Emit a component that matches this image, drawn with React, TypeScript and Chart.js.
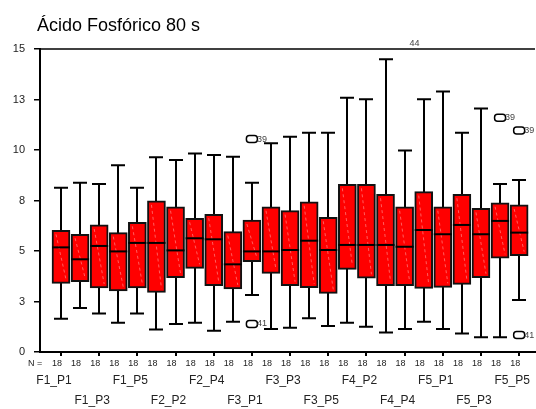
import React, { useEffect, useRef } from "react";
import { Chart, registerables } from "chart.js";

Chart.register(...registerables);

const titleText = "Ácido Fosfórico 80 s";
const categories = [
  "F1_P1", "F1_P2", "F1_P3", "F1_P4", "F1_P5",
  "F2_P1", "F2_P2", "F2_P3", "F2_P4", "F2_P5",
  "F3_P1", "F3_P2", "F3_P3", "F3_P4", "F3_P5",
  "F4_P1", "F4_P2", "F4_P3", "F4_P4", "F4_P5",
  "F5_P1", "F5_P2", "F5_P3", "F5_P4", "F5_P5",
];
const counts = [18, 18, 18, 18, 18, 18, 18, 18, 18, 18, 18, 18, 18, 18, 18, 18, 18, 18, 18, 18, 18, 18, 18, 18, 18];
const whiskerHigh = [8.13, 8.38, 8.32, 9.24, 8.13, 9.64, 9.5, 9.83, 9.75, 9.67, 8.38, 10.33, 10.66, 10.86, 10.86, 12.59, 12.51, 14.49, 9.97, 12.51, 12.89, 10.86, 12.05, 8.32, 8.51];
const q3 = [6.02, 5.83, 6.29, 5.91, 6.42, 7.48, 7.19, 6.62, 6.82, 5.96, 6.53, 7.19, 7.0, 7.44, 6.67, 8.3, 8.3, 7.81, 7.19, 7.94, 7.19, 7.81, 7.11, 7.39, 7.28];
const median = [5.18, 4.59, 5.25, 4.98, 5.4, 5.4, 5.03, 5.63, 5.58, 4.34, 4.98, 4.98, 5.05, 5.51, 5.05, 5.3, 5.3, 5.3, 5.21, 6.04, 5.83, 6.29, 5.83, 6.49, 5.91];
const q1 = [3.4, 3.48, 3.17, 3.02, 3.17, 2.95, 3.68, 4.14, 3.28, 3.12, 4.47, 3.89, 3.28, 3.18, 2.9, 4.09, 3.65, 3.28, 3.28, 3.15, 3.2, 3.35, 3.68, 4.64, 4.77];
const whiskerLow = [1.65, 2.18, 1.9, 1.45, 1.9, 1.12, 1.39, 1.45, 1.05, 1.5, 2.82, 1.14, 1.2, 1.67, 1.29, 1.45, 1.25, 0.97, 1.14, 1.5, 1.14, 0.92, 0.73, 0.73, 2.57];
const outlierBox = [10, 10, 23, 24, 24, 18];
const outlierValue = [10.54, 1.39, 11.6, 10.96, 0.84, 15.6];
const outlierLabel = ["39", "41", "39", "39", "41", "44"];
const yTicks = [0, 2.5, 5, 7.5, 10, 12.5, 15];

const FONT = "Arial, 'Liberation Sans', sans-serif";

const boxPlugin = {
  id: "boxExtras",
  beforeDatasetsDraw(chart: any) {
    const { ctx, scales } = chart;
    const xs = scales.x, ys = scales.y;
    ctx.save();
    ctx.strokeStyle = "#000";
    ctx.lineWidth = 2;
    for (let i = 0; i < categories.length; i++) {
      const x = Math.round(xs.getPixelForValue(i));
      const yh = ys.getPixelForValue(whiskerHigh[i]);
      const yl = ys.getPixelForValue(whiskerLow[i]);
      ctx.beginPath();
      ctx.moveTo(x, yh);
      ctx.lineTo(x, yl);
      ctx.moveTo(x - 7, yh);
      ctx.lineTo(x + 7, yh);
      ctx.moveTo(x - 7, yl);
      ctx.lineTo(x + 7, yl);
      ctx.stroke();
    }
    ctx.restore();
  },
  afterDatasetsDraw(chart: any) {
    const { ctx, scales, chartArea } = chart;
    const xs = scales.x, ys = scales.y;
    ctx.save();
    ctx.strokeStyle = "#000";
    ctx.lineWidth = 1.5;
    ctx.beginPath();
    ctx.moveTo(chartArea.left, ys.getPixelForValue(15));
    ctx.lineTo(chartArea.right, ys.getPixelForValue(15));
    ctx.stroke();
    for (let i = 0; i < categories.length; i++) {
      const x = xs.getPixelForValue(i);
      const yt = ys.getPixelForValue(q3[i]);
      const yb = ys.getPixelForValue(q1[i]);
      ctx.strokeStyle = "rgba(255,170,170,0.55)";
      ctx.lineWidth = 1;
      ctx.setLineDash([3, 3]);
      ctx.beginPath();
      ctx.moveTo(x - 5, yt + 4);
      ctx.lineTo(x + 5, yb - 4);
      ctx.stroke();
      ctx.setLineDash([]);
      const ym = ys.getPixelForValue(median[i]);
      ctx.strokeStyle = "#000";
      ctx.lineWidth = 2;
      ctx.beginPath();
      ctx.moveTo(x - 9, ym);
      ctx.lineTo(x + 9, ym);
      ctx.stroke();
    }
    ctx.font = `9px ${FONT}`;
    ctx.textBaseline = "middle";
    ctx.textAlign = "left";
    for (let k = 0; k < outlierBox.length; k++) {
      const x = xs.getPixelForValue(outlierBox[k]);
      const y = ys.getPixelForValue(outlierValue[k]);
      if (y < chartArea.top) {
        ctx.fillStyle = "#444";
        ctx.fillText(outlierLabel[k], x + 5, chartArea.top - 5);
        continue;
      }
      ctx.strokeStyle = "#000";
      ctx.lineWidth = 1.5;
      ctx.beginPath();
      (ctx as any).roundRect(x - 5.5, y - 3.5, 11, 7, 3);
      ctx.stroke();
      ctx.fillStyle = "#444";
      ctx.fillText(outlierLabel[k], x + 5, y);
    }
    ctx.restore();
  },
  afterDraw(chart: any) {
    const { ctx, scales, chartArea } = chart;
    const xs = scales.x;
    ctx.save();
    ctx.fillStyle = "#000";
    ctx.font = `18px ${FONT}`;
    ctx.textAlign = "left";
    ctx.textBaseline = "alphabetic";
    ctx.fillText(titleText, 37, 31);
    ctx.strokeStyle = "#000";
    ctx.lineWidth = 2;
    for (let i = 0; i < categories.length; i += 2) {
      const x = Math.round(xs.getPixelForValue(i));
      ctx.beginPath();
      ctx.moveTo(x, chartArea.bottom);
      ctx.lineTo(x, chartArea.bottom + 4);
      ctx.stroke();
    }
    ctx.fillStyle = "#222";
    ctx.font = `9px ${FONT}`;
    ctx.textBaseline = "middle";
    ctx.textAlign = "left";
    ctx.fillText("N =", 28, 364);
    ctx.textAlign = "center";
    for (let i = 0; i < categories.length; i++) {
      const x = xs.getPixelForValue(i);
      ctx.fillText(String(counts[i]), x - 4, 364);
    }
    ctx.font = `12px ${FONT}`;
    for (let i = 0; i < categories.length; i += 2) {
      const x = xs.getPixelForValue(i);
      const row = (i / 2) % 2 === 0 ? 381 : 401;
      ctx.fillText(categories[i], x - 7, row);
    }
    ctx.restore();
  },
};

export default function App() {
  const ref = useRef<HTMLCanvasElement | null>(null);
  useEffect(() => {
    if (!ref.current) return;
    const chart = new Chart(ref.current, {
      type: "bar",
      data: {
        datasets: [
          {
            data: categories.map((_, i) => ({ x: i, y: [q1[i], q3[i]] })) as any,
            backgroundColor: "#ff0000",
            borderColor: "#111",
            borderWidth: 2,
            borderSkipped: false,
            barThickness: 18,
          },
        ],
      },
      options: {
        animation: false,
        responsive: false,
        events: [],
        layout: { padding: { top: 49, right: 1, left: 0, bottom: 0 } },
        plugins: { legend: { display: false }, tooltip: { enabled: false }, title: { display: false } },
        scales: {
          x: {
            type: "linear",
            min: -1.1,
            max: 24.83,
            offset: false,
            afterFit: (s: any) => { s.height = 57; },
            grid: { display: true, drawOnChartArea: false, drawTicks: false, offset: false },
            ticks: { display: false },
            border: { display: true, color: "#000", width: 2 },
          },
          y: {
            type: "linear",
            min: 0,
            max: 15,
            afterFit: (s: any) => { s.width = 40; },
            afterBuildTicks: (s: any) => { s.ticks = yTicks.map((v) => ({ value: v })); },
            grid: { drawOnChartArea: false, drawTicks: true, tickLength: 6, color: "#000", lineWidth: 1.5 },
            border: { display: true, color: "#000", width: 2 },
            ticks: {
              padding: 9,
              color: "#222",
              font: { family: FONT, size: 11 },
              callback: (v: any) => String(Math.round(Number(v))),
            },
          },
        },
      },
      plugins: [boxPlugin],
    });
    return () => chart.destroy();
  }, []);
  return (
    <div style={{ position: "absolute", left: 0, top: 0, width: 536, height: 409, background: "#fff" }}>
      <canvas ref={ref} width={536} height={409} style={{ display: "block" }} />
    </div>
  );
}
